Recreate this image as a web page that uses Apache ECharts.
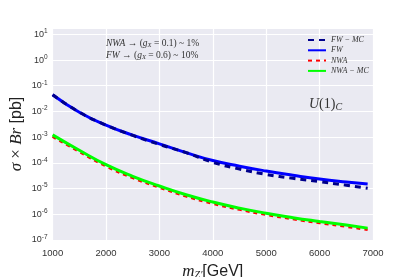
<!DOCTYPE html>
<html><head><meta charset="utf-8">
<script src="https://cdn.jsdelivr.net/npm/echarts@6/dist/echarts.min.js"></script>
<style>html,body{margin:0;padding:0;background:#fff}#c{width:415px;height:277px}</style>
</head><body><div id="c"></div>
<script>
const mass = [1000,1500,2000,2500,3000,3500,4000,4500,5000,5500,6000,6500,6900];
const fwMC = [0.0447,0.00933,0.00295,0.00117,5.2e-4,2.5e-4,1.05e-4,5.75e-5,3.55e-5,2.5e-5,1.86e-5,1.35e-5,1.02e-5];
const fw   = [0.0447,0.00933,0.00295,0.0012,5.5e-4,2.5e-4,1.23e-4,7.4e-5,4.8e-5,3.3e-5,2.35e-5,1.8e-5,1.5e-5];
const nwa  = [1.05e-3,2.7e-4,7.4e-5,2.6e-5,1.1e-5,5.0e-6,2.6e-6,1.52e-6,9.6e-7,6.5e-7,4.6e-7,3.3e-7,2.5e-7];
const nwaMC= [1.23e-3,3.09e-4,8.5e-5,3.0e-5,1.26e-5,5.75e-6,3.0e-6,1.74e-6,1.1e-6,7.4e-7,5.25e-7,3.8e-7,2.9e-7];
const xTicks = [1000,2000,3000,4000,5000,6000,7000];
const yExponents = [-7,-6,-5,-4,-3,-2,-1,0,1];

const pair = (ys) => mass.map((m,i)=>[m, ys[i]]);
const chart = echarts.init(document.getElementById('c'), null, {renderer:'canvas'});
const serif = '"Liberation Serif", "DejaVu Serif", serif';
const sans = '"Liberation Sans", Arial, sans-serif';
chart.setOption({
  animation:false,
  backgroundColor:'#fff',
  grid:{left:52.6, right:42, top:28, bottom:37, show:true, backgroundColor:'#EAEAF2', borderWidth:0,
        containLabel:false, outerBoundsMode:'none'},
  legend:{
    orient:'vertical', left:302, top:31, itemWidth:18, itemHeight:9, itemGap:2.3,
    itemStyle:{opacity:0},
    textStyle:{fontFamily:serif, fontStyle:'italic', fontSize:8, color:'#333'},
    data:['FW − MC','FW','NWA','NWA − MC']
  },
  xAxis:{
    type:'value', min:1000, max:7000, interval:1000,
    axisLine:{show:false}, axisTick:{show:false},
    splitLine:{show:true, lineStyle:{color:'#fff', width:1.2}},
    axisLabel:{fontFamily:sans, fontSize:9.5, color:'#333', margin:8,
      formatter:(v)=> xTicks.includes(v) ? String(v) : ''},
    name:'{m|m}{s|Z′}{g|[GeV]}', nameLocation:'middle', nameGap:22,
    nameTextStyle:{rich:{
      m:{fontFamily:serif, fontStyle:'italic', fontSize:17, color:'#222'},
      s:{fontFamily:serif, fontStyle:'italic', fontSize:10, color:'#222', padding:[8,0,0,0]},
      g:{fontFamily:sans, fontSize:16, color:'#222'}
    }}
  },
  yAxis:{
    type:'log', logBase:10, min:1e-7, max:17.6,
    axisLine:{show:false}, axisTick:{show:false},
    splitLine:{show:true, lineStyle:{color:'#fff', width:1.2}},
    axisLabel:{margin:5, fontFamily:sans, fontSize:9, color:'#333',
      formatter:(v)=>{ const l=Math.log10(v); const e=Math.round(l);
        if(Math.abs(l-e)>1e-6 || !yExponents.includes(e)) return '';
        return '10{s|'+e+'}'; },
      rich:{s:{fontFamily:sans, fontSize:6.5, color:'#333', padding:[0,0,6,0]}}
    }
  },
  series:[
    {name:'FW', type:'line', data:pair(fw), smooth:true, symbol:'none', z:3,
      lineStyle:{color:'#0000FF', width:3}, itemStyle:{color:'#0000FF'}},
    {name:'FW − MC', type:'line', data:pair(fwMC), smooth:true, symbol:'none', z:4,
      lineStyle:{color:'#00008B', width:3, type:[6,5]}, itemStyle:{color:'#00008B'}},
    {name:'NWA', type:'line', data:pair(nwa), smooth:true, symbol:'none', z:3,
      lineStyle:{color:'#FF0000', width:2.5, type:[4,4]}, itemStyle:{color:'#FF0000'}},
    {name:'NWA − MC', type:'line', data:pair(nwaMC), smooth:true, symbol:'none', z:4,
      lineStyle:{color:'#00FF00', width:3}, itemStyle:{color:'#00FF00'}}
  ],
  graphic:[
    {type:'text', left:106, top:38, z:10, style:{
      text:'{i|NWA}{n| → (}{i|g}{b|X}{n| = 0.1) ~ 1%}\n{i|FW}{n| → (}{i|g}{b|X}{n| = 0.6) ~ 10%}',
      rich:{
        i:{fontFamily:serif, fontStyle:'italic', fontSize:9.5, fill:'#333', lineHeight:11.5},
        n:{fontFamily:serif, fontSize:9.5, fill:'#333', lineHeight:11.5},
        b:{fontFamily:serif, fontStyle:'italic', fontSize:6.5, fill:'#333', padding:[4,0,0,0], lineHeight:11.5}
      }}},
    {type:'text', left:309, top:97, z:10, style:{
      text:'{i|U}{n|(1)}{b|C}',
      rich:{
        i:{fontFamily:serif, fontStyle:'italic', fontSize:14, fill:'#333'},
        n:{fontFamily:serif, fontSize:14, fill:'#333'},
        b:{fontFamily:serif, fontStyle:'italic', fontSize:10, fill:'#333', padding:[7,0,0,0]}
      }}},
    {type:'text', x:17, y:134, rotation:Math.PI/2, z:10, style:{
      text:'{i|σ}{n| × }{i|Br}{g| [pb]}', align:'center', verticalAlign:'middle',
      rich:{
        i:{fontFamily:serif, fontStyle:'italic', fontSize:17, fill:'#222'},
        n:{fontFamily:serif, fontSize:17, fill:'#222'},
        g:{fontFamily:sans, fontSize:16, fill:'#222'}
      }}}
  ]
});
</script></body></html>
